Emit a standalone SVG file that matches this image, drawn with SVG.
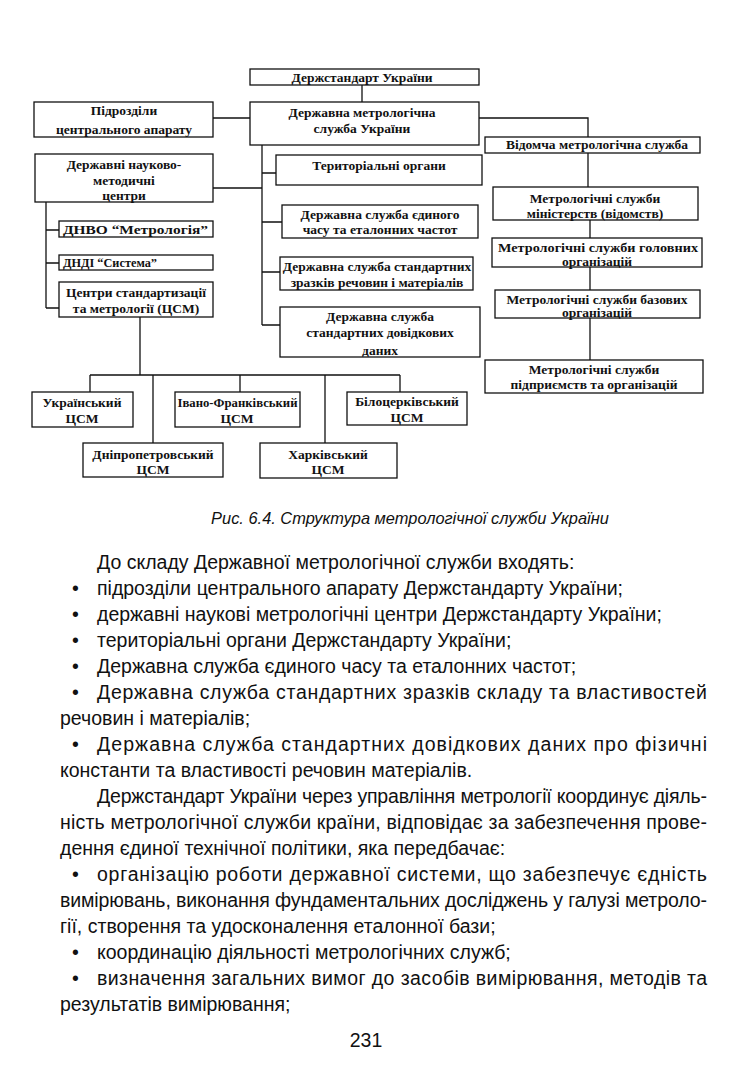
<svg xmlns="http://www.w3.org/2000/svg" width="736" height="1077" viewBox="0 0 736 1077">
<style>
.b{fill:#fff;stroke:#111;stroke-width:1.3}
.c{fill:none;stroke:#111;stroke-width:1.3}
.t{font-family:"Liberation Serif","Times New Roman",serif;font-size:13.5px;font-weight:bold;fill:#111;text-anchor:middle}
.l{text-anchor:start}
.p{font-family:"Liberation Sans",Arial,sans-serif;font-size:19.5px;fill:#111}
.cap{font-family:"Liberation Sans",Arial,sans-serif;font-size:16.4px;font-style:italic;fill:#111;text-anchor:middle}
</style>
<rect width="736" height="1077" fill="#fff"/>
<g id="connectors">
<path class="c" d="M362,85V102"/>
<path class="c" d="M213,118H250"/>
<path class="c" d="M479,118H588V137"/>
<path class="c" d="M588,153V187"/>
<path class="c" d="M590,220V238"/>
<path class="c" d="M590,267V290"/>
<path class="c" d="M590,318V360"/>
<path class="c" d="M262,145V325"/>
<path class="c" d="M262,173H276M262,222H282M262,272H280M262,325H280"/>
<path class="c" d="M213,188H262"/>
<path class="c" d="M46,202V308M46,230H59M46,263H59M46,308H59"/>
<path class="c" d="M140,317V375M90,375H400M90,375V392M153,375V443M240,375V392M325,375V443M400,375V392"/>
</g>
<g id="n1"><rect class="b" x="250" y="69" width="229" height="16"/><text class="t" x="362" y="82">Держстандарт України</text></g>
<g id="n2"><rect class="b" x="34" y="102" width="179" height="35"/><text class="t" x="124" y="115">Підрозділи</text><text class="t" x="124" y="134">центрального апарату</text></g>
<g id="n3"><rect class="b" x="250" y="102" width="229" height="43"/><text class="t" x="362" y="117">Державна метрологічна</text><text class="t" x="362" y="133">служба України</text></g>
<g id="n4"><rect class="b" x="35" y="154" width="178" height="48"/><text class="t" x="124" y="169">Державні науково-</text><text class="t" x="124" y="185">методичні</text><text class="t" x="124" y="200">центри</text></g>
<g id="n5"><rect class="b" x="276" y="155" width="206" height="30"/><text class="t" x="379" y="170">Територіальні органи</text></g>
<g id="n6"><rect class="b" x="282" y="205" width="196" height="33"/><text class="t" x="380" y="219">Державна служба єдиного</text><text class="t" x="380" y="234">часу та еталонних частот</text></g>
<g id="n7"><rect class="b" x="280" y="257" width="193" height="33"/><text class="t" x="377" y="271">Державна служба стандартних</text><text class="t" x="377" y="287">зразків речовин і матеріалів</text></g>
<g id="n8"><rect class="b" x="280" y="307" width="200" height="50"/><text class="t" x="380" y="321">Державна служба</text><text class="t" x="380" y="337">стандартних довідкових</text><text class="t" x="380" y="355">даних</text></g>
<g id="n9"><rect class="b" x="485" y="137" width="215" height="16"/><text class="t" x="597" y="149">Відомча метрологічна служба</text></g>
<g id="n10"><rect class="b" x="493" y="187" width="205" height="33"/><text class="t" x="595" y="203">Метрологічні служби</text><text class="t" x="595" y="218">міністерств (відомств)</text></g>
<g id="n11"><rect class="b" x="492" y="238" width="210" height="29"/><text class="t" x="598" y="252" textLength="200" lengthAdjust="spacingAndGlyphs">Метрологічні служби головних</text><text class="t" x="597" y="266">організацій</text></g>
<g id="n12"><rect class="b" x="495" y="290" width="205" height="28"/><text class="t" x="597" y="304">Метрологічні служби базових</text><text class="t" x="597" y="317">організацій</text></g>
<g id="n13"><rect class="b" x="485" y="360" width="218" height="33"/><text class="t" x="594" y="374">Метрологічні служби</text><text class="t" x="594" y="389">підприємств та організацій</text></g>
<g id="n14"><rect class="b" x="59" y="221" width="154" height="16"/><text class="t l" x="63" y="234" textLength="145" lengthAdjust="spacingAndGlyphs">ДНВО “Метрологія”</text></g>
<g id="n15"><rect class="b" x="59" y="255" width="154" height="15"/><text class="t l" x="63" y="267" textLength="94" lengthAdjust="spacingAndGlyphs">ДНДІ “Система”</text></g>
<g id="n16"><rect class="b" x="59" y="282" width="154" height="35"/><text class="t" x="136" y="297">Центри стандартизації</text><text class="t" x="136" y="313">та метрології (ЦСМ)</text></g>
<g id="n17"><rect class="b" x="32" y="392" width="101" height="35"/><text class="t" x="82" y="407">Український</text><text class="t" x="82" y="423">ЦСМ</text></g>
<g id="n18"><rect class="b" x="175" y="392" width="125" height="35"/><text class="t" x="237.5" y="407" textLength="120" lengthAdjust="spacingAndGlyphs">Івано-Франківський</text><text class="t" x="237" y="423">ЦСМ</text></g>
<g id="n19"><rect class="b" x="347" y="392" width="120" height="33"/><text class="t" x="407" y="406">Білоцерківський</text><text class="t" x="407" y="422">ЦСМ</text></g>
<g id="n20"><rect class="b" x="83" y="443" width="140" height="34"/><text class="t" x="153" y="459">Дніпропетровський</text><text class="t" x="153" y="474">ЦСМ</text></g>
<g id="n21"><rect class="b" x="260" y="443" width="137" height="35"/><text class="t" x="328" y="459">Харківський</text><text class="t" x="328" y="474">ЦСМ</text></g>
<text class="cap" x="410" y="524">Рис. 6.4. Структура метрологічної служби України</text>
<g id="body" class="p">
<text x="97" y="569">До складу Державної метрологічної служби входять:</text>
<text x="72" y="595">•</text><text x="97" y="595">підрозділи центрального апарату Держстандарту України;</text>
<text x="72" y="621">•</text><text x="97" y="621">державні наукові метрологічні центри Держстандарту України;</text>
<text x="72" y="647">•</text><text x="97" y="647">територіальні органи Держстандарту України;</text>
<text x="72" y="673">•</text><text x="97" y="673">Державна служба єдиного часу та еталонних частот;</text>
<text x="72" y="699">•</text><text x="97" y="699" textLength="610" lengthAdjust="spacing">Державна служба стандартних зразків складу та властивостей</text>
<text x="60" y="725">речовин і матеріалів;</text>
<text x="72" y="751">•</text><text x="97" y="751" textLength="610" lengthAdjust="spacing">Державна служба стандартних довідкових даних про фізичні</text>
<text x="60" y="777">константи та властивості речовин матеріалів.</text>
<text x="97" y="803" textLength="610" lengthAdjust="spacing">Держстандарт України через управління метрології координує діяль-</text>
<text x="60" y="829" textLength="647" lengthAdjust="spacing">ність метрологічної служби країни, відповідає за забезпечення прове-</text>
<text x="60" y="855">дення єдиної технічної політики, яка передбачає:</text>
<text x="72" y="881">•</text><text x="97" y="881" textLength="610" lengthAdjust="spacing">організацію роботи державної системи, що забезпечує єдність</text>
<text x="60" y="907" textLength="647" lengthAdjust="spacing">вимірювань, виконання фундаментальних досліджень у галузі метроло-</text>
<text x="60" y="933">гії, створення та удосконалення еталонної бази;</text>
<text x="72" y="959">•</text><text x="97" y="959">координацію діяльності метрологічних служб;</text>
<text x="72" y="985">•</text><text x="97" y="985" textLength="610" lengthAdjust="spacing">визначення загальних вимог до засобів вимірювання, методів та</text>
<text x="60" y="1011">результатів вимірювання;</text>
<text x="366" y="1047" text-anchor="middle">231</text>
</g>
</svg>
